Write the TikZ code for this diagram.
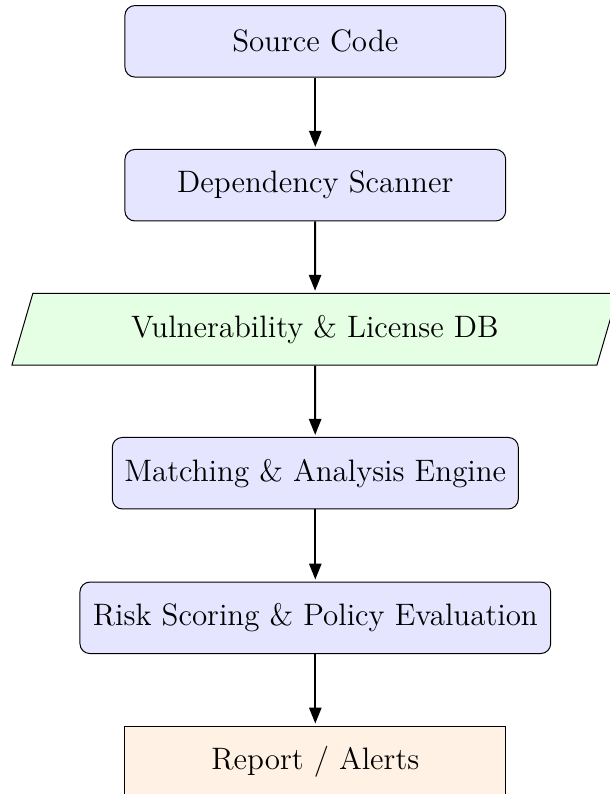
\documentclass[tikz,border=0pt]{standalone}
\usetikzlibrary{shapes.geometric,arrows.meta}
\newcommand{\boxfont}{\fontsize{12.4}{15}\selectfont}
\tikzset{
  procbox/.style={draw=black, line width=0.4pt, fill=blue!10, rounded corners=4pt,
    minimum width=152.3pt, minimum height=28.6pt, inner sep=2pt, font=\boxfont, align=center},
  databox/.style={draw=black, line width=0.4pt, fill=green!10, trapezium,
    trapezium left angle=70, trapezium right angle=110, trapezium stretches=true,
    minimum width=242.5pt, minimum height=28.7pt, inner sep=2pt, font=\boxfont},
  outbox/.style={draw=black, line width=0.4pt, fill=orange!10,
    minimum width=152.3pt, minimum height=28.6pt, inner sep=2pt, font=\boxfont},
  arr/.style={-{Triangle[length=6.4pt, width=4.9pt]}, line width=0.8pt, shorten >=0.8pt}
}
\begin{document}
\begin{tikzpicture}[x=0.4pt, y=-0.4pt]
  \useasboundingbox (0,0) rectangle (609,794);
  \node[procbox] (src) at (315.3,41.3) {Source Code};
  \node[procbox] (dep) at (315.3,185.2) {Dependency Scanner};
  \node[databox] (db) at (314.9,329.2) {Vulnerability \& License DB};
  \node[procbox, minimum width=162.4pt] (match) at (315.3,473.2) {Matching \& Analysis Engine};
  \node[procbox, minimum width=188.3pt] (risk) at (315.3,617.8) {Risk Scoring \& Policy Evaluation};
  \node[outbox] (rep) at (315.3,761.8) {Report / Alerts};
  \draw[arr] (src) -- (dep);
  \draw[arr] (dep) -- (db);
  \draw[arr] (db) -- (match);
  \draw[arr] (match) -- (risk);
  \draw[arr] (risk) -- (rep);
\end{tikzpicture}
\end{document}
